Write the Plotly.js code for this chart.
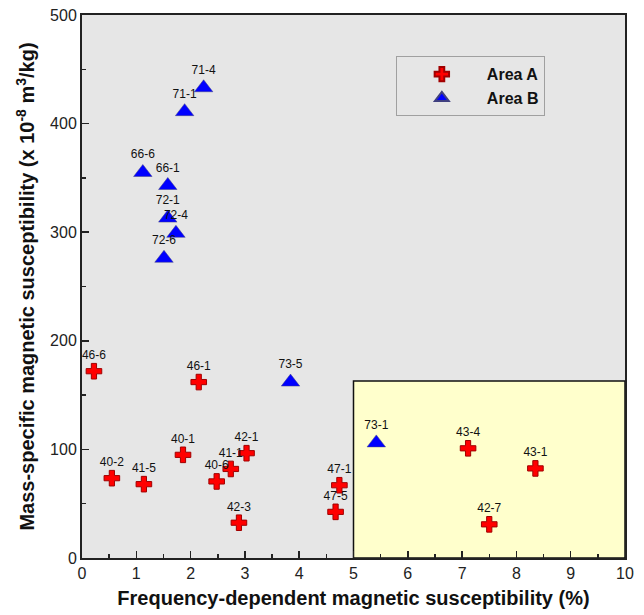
<!DOCTYPE html>
<html>
<head>
<meta charset="utf-8">
<script src="https://cdn.plot.ly/plotly-3.0.1.min.js"></script>
<style>html,body{margin:0;padding:0;background:#fff;}#chart{width:644px;height:615px;}</style>
</head>
<body>
<div id="chart"></div>
<script>
// Area A samples
const aLabels = ["46-6","46-1","40-2","41-5","40-1","42-1","41-1","40-6","42-3","47-1","47-5","43-4","43-1","42-7"];
const aFd     = [0.22, 2.15, 0.55, 1.14, 1.86, 3.03, 2.74, 2.48, 2.89, 4.74, 4.67, 7.11, 8.35, 7.50];
const aChi    = [172, 162, 73.5, 68, 95, 96.5, 82, 70.5, 32.5, 67, 42.5, 101, 82.5, 31];
// Area B samples
const bLabels = ["71-4","71-1","66-6","66-1","72-1","72-4","72-6","73-5","73-1"];
const bFd     = [2.24, 1.89, 1.12, 1.58, 1.58, 1.73, 1.51, 3.84, 5.42];
const bChi    = [433, 411, 355, 343, 313, 299, 276, 162, 106];
// Highlighted zone
const zoneX = [5, 10];
const zoneY = [0, 163];

const labelFont = {family: "Arial, Liberation Sans, sans-serif", size: 12, color: "#111"};

const traces = [
  {
    x: aFd, y: aChi, text: aLabels, name: "Area A",
    type: "scatter", mode: "markers+text", textposition: "top center",
    textfont: labelFont, cliponaxis: false,
    marker: {symbol: "cross", size: 13, color: "#ff0000", line: {color: "#a00000", width: 1}}
  },
  {
    x: bFd, y: bChi, text: bLabels, name: "Area B",
    type: "scatter", mode: "markers+text", textposition: "top center",
    textfont: labelFont, cliponaxis: false,
    marker: {symbol: "triangle-up", size: 16, color: "#0000ff", line: {color: "#404080", width: 0.5}}
  }
];

const axisFont = {family: "Arial, Liberation Sans, sans-serif", size: 16, color: "#222"};
const titleFont = {family: "Arial, Liberation Sans, sans-serif", size: 20, color: "#111", weight: "bold"};

const layout = {
  width: 644, height: 615,
  margin: {l: 82, r: 19, t: 15, b: 57},
  paper_bgcolor: "#ffffff",
  plot_bgcolor: "#e6e6e6",
  showlegend: true,
  legend: {
    x: 0.578, y: 0.924, xanchor: "left", yanchor: "top",
    bgcolor: "rgba(0,0,0,0)", bordercolor: "#a0a0a0", borderwidth: 1,
    font: {family: "Arial, Liberation Sans, sans-serif", size: 16, color: "#111", weight: "bold"},
    itemsizing: "constant", itemwidth: 80, tracegroupgap: 2
  },
  xaxis: {
    range: [0, 10], dtick: 1, tick0: 0,
    showgrid: false, zeroline: false,
    ticks: "inside", ticklen: 7, tickwidth: 1.5, tickcolor: "#222",
    minor: {ticks: "inside", ticklen: 4, tickwidth: 1.5, tickcolor: "#222", dtick: 0.5, showgrid: false},
    showline: true, linecolor: "#222", linewidth: 2, mirror: true,
    tickfont: axisFont,
    title: {text: "Frequency-dependent magnetic susceptibility (%)", font: titleFont, standoff: 10}
  },
  yaxis: {
    range: [0, 500], dtick: 100, tick0: 0,
    showgrid: false, zeroline: false,
    ticks: "inside", ticklen: 7, tickwidth: 1.5, tickcolor: "#222",
    minor: {ticks: "inside", ticklen: 4, tickwidth: 1.5, tickcolor: "#222", dtick: 50, showgrid: false},
    showline: true, linecolor: "#222", linewidth: 2, mirror: true,
    tickfont: axisFont,
    title: {text: "Mass-specific magnetic susceptibility (x 10<sup>-8</sup> m<sup>3</sup>/kg)", font: titleFont, standoff: 10}
  },
  shapes: [
    {
      type: "rect", xref: "x", yref: "y", layer: "below",
      x0: zoneX[0], x1: zoneX[1], y0: zoneY[0], y1: zoneY[1],
      fillcolor: "#ffffcc", line: {color: "#111", width: 1.5}
    }
  ]
};

Plotly.newPlot("chart", traces, layout, {displayModeBar: false, staticPlot: true});
</script>
</body>
</html>
